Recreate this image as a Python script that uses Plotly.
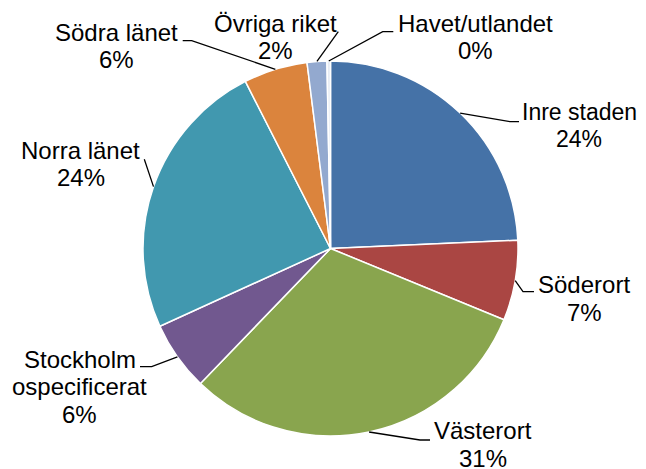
import math
import plotly.graph_objects as go

# Data (share of total, %)
regions = ["Inre staden", "Söderort", "Västerort", "Stockholm ospecificerat",
           "Norra länet", "Södra länet", "Övriga riket", "Havet/utlandet"]
shares = [24.3, 6.9, 31.0, 6.0, 24.3, 5.5, 1.7, 0.3]
label_lines = [["Inre staden"], ["Söderort"], ["Västerort"], ["Stockholm", "ospecificerat"],
               ["Norra länet"], ["Södra länet"], ["Övriga riket"], ["Havet/utlandet"]]
colors = ["#4572A7", "#AA4643", "#89A54E", "#71588F",
          "#4198AF", "#DB843D", "#93A9CF", "#E6EBF3"]

# page body has an 8px margin; figure is kept full size so text near the
# right/bottom edge is not clipped, and coordinates are shifted by OFF
OFF = 8
W, H = 646, 469
cx, cy, r = 330.5, 248.5, 187.5

# label placement (window pixels): block centre x, first line centre y, font size
label_pos = [(579, 111.7), (584, 284.7), (483, 430.5), (79.5, 359),
             (80.5, 150), (116.7, 32.2), (275, 23.3), (475, 23.3)]
label_size = [23, 24, 24, 24, 24, 24, 24, 24]
line_step = 27.5
# leader line kink and end points (window pixels)
leader_pts = [[(510, 121.7), (519, 121.7)], [(523, 291.7), (534, 291.7)],
              [(420, 440), (430, 440)], [(151.7, 366.7), (140, 366.7)],
              [(144.3, 159.3)], [(191.7, 40.7), (182.7, 40.7)],
              [(338.3, 31.7)], [(382.7, 31.7), (393.3, 31.7)]]


def px(x, y):
    return (x - OFF) / W, 1 - (y - OFF) / H


x0, y0 = px(cx - r, cy + r)
x1, y1 = px(cx + r, cy - r)

fig = go.Figure(go.Pie(
    labels=regions, values=shares, sort=False, direction="clockwise", rotation=0,
    marker=dict(colors=colors, line=dict(color="white", width=1.5)),
    textinfo="none", hoverinfo="label+percent", showlegend=False,
    domain=dict(x=[x0, x1], y=[y0, y1]),
))

total = sum(shares)
cum = 0
annotations = []
shapes = []
for i, v in enumerate(shares):
    mid = 90 - 360 * (cum + v / 2) / total
    cum += v
    sx = cx + r * math.cos(math.radians(mid))
    sy = cy - r * math.sin(math.radians(mid))
    pts = [(sx, sy)] + leader_pts[i]
    path = "M " + " L ".join("%f,%f" % px(x, y) for x, y in pts)
    shapes.append(dict(type="path", path=path, xref="paper", yref="paper",
                       line=dict(color="black", width=1.3)))

    lines = label_lines[i] + ["%d%%" % round(v / total * 100)]
    bx, by = label_pos[i]
    for j, t in enumerate(lines):
        x, y = px(bx, by + j * line_step)
        annotations.append(dict(text=t, x=x, y=y, xref="paper", yref="paper",
                                xanchor="center", yanchor="middle", showarrow=False,
                                font=dict(family="Liberation Sans, Arial",
                                          size=label_size[i], color="black")))

fig.update_layout(
    width=W, height=H, autosize=False,
    margin=dict(l=0, r=0, t=0, b=0),
    paper_bgcolor="white", plot_bgcolor="white",
    annotations=annotations, shapes=shapes,
)

fig.write_html("out.html")
